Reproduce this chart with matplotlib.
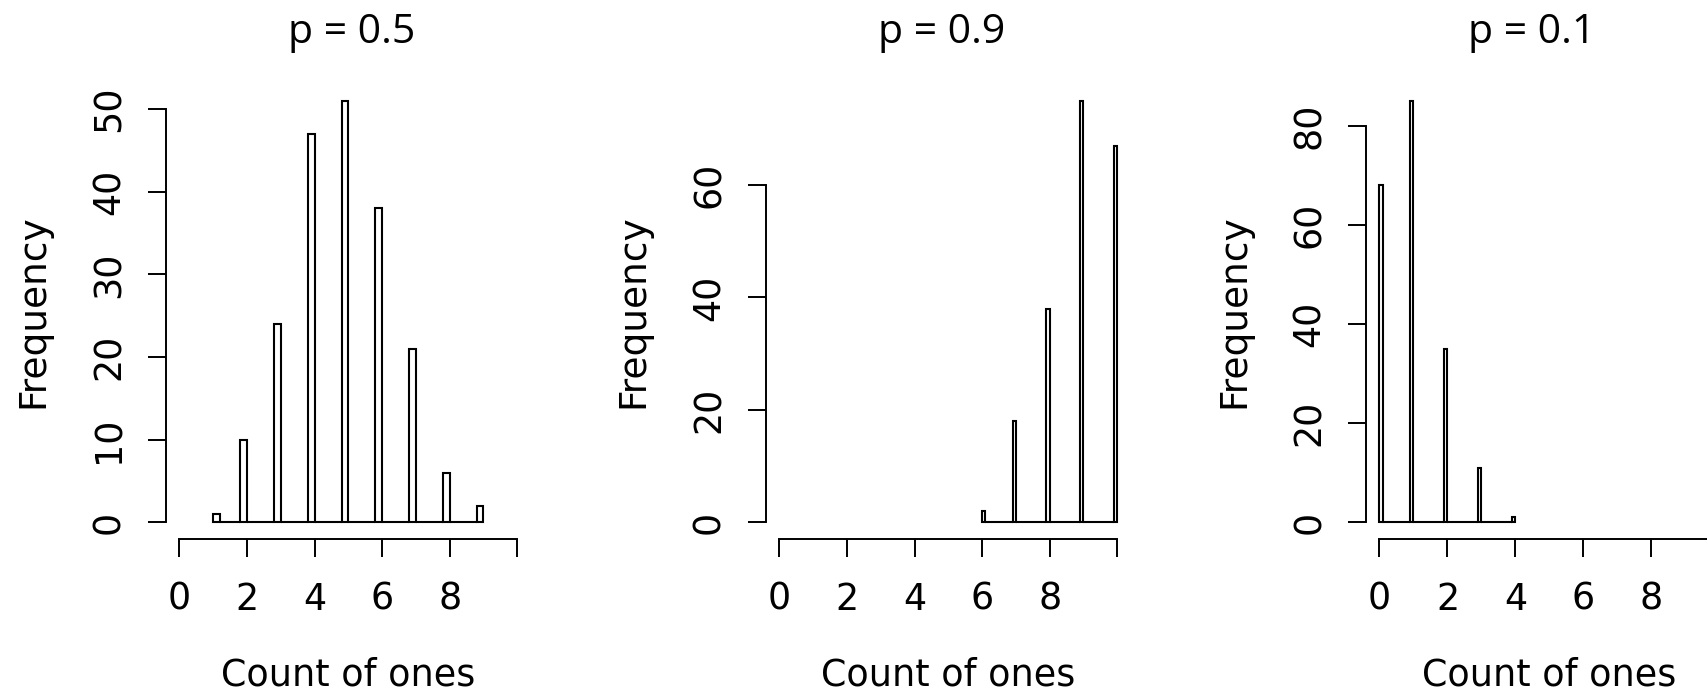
import numpy as np
import matplotlib
matplotlib.use("Agg")
import matplotlib.pyplot as plt

# ---------------- data ----------------
titles = ["p = 0.5", "p = 0.9", "p = 0.1"]
values_p05 = [1, 2, 3, 4, 5, 6, 7, 8, 9]
counts_p05 = [1, 10, 24, 47, 51, 38, 21, 6, 2]
values_p09 = [6, 7, 8, 9, 10]
counts_p09 = [2, 18, 38, 75, 67]
values_p01 = [0, 1, 2, 3, 4]
counts_p01 = [68, 85, 35, 11, 1]
bin_widths = [0.2, 0.1, 0.1]
yticks_p05 = [0, 10, 20, 30, 40, 50]
yticks_p09 = [0, 20, 40, 60]
yticks_p01 = [0, 20, 40, 60, 80]
xticks = [0, 2, 4, 6, 8, 10]
xtick_labels = ["0", "2", "4", "6", "8", ""]
xlabel = "Count of ones"
ylabel = "Frequency"

panels = [
    (values_p05, counts_p05, bin_widths[0], yticks_p05, titles[0]),
    (values_p09, counts_p09, bin_widths[1], yticks_p09, titles[1]),
    (values_p01, counts_p01, bin_widths[2], yticks_p01, titles[2]),
]

# ---------------- layout (pixels) ----------------
W, H, DPI = 1708, 691, 100
fig = plt.figure(figsize=(W / DPI, H / DPI), dpi=DPI)
fig.patch.set_facecolor("white")

axes_px = [(165.8, 365.0), (765.8, 365.0), (1365.9, 367.2)]
top_px, bot_px = 84.0, 539.0
title_cx = [352.0, 942.0, 1531.7]
title_base = 42.7
ylab_offset = 114.0
xlab_base = 685.0

tick_font = dict(family="DejaVu Sans", size=26.3)
label_font = dict(family="DejaVu Sans", size=27.0)
title_font = dict(family="Open Sans", size=29.5)
LW = 1.4
BAR_LW = 1.5

for (vals, cnts, w, yt, title), (lpx, wpx), tcx in zip(panels, axes_px, title_cx):
    ax = fig.add_axes([lpx / W, (H - bot_px) / H, wpx / W, (bot_px - top_px) / H])
    ax.set_facecolor("none")

    # histogram bins derived from the integer counts
    breaks = np.round(np.arange(vals[0], vals[-1] + w / 2, w), 6)
    nb = len(breaks) - 1
    hist = np.zeros(nb)
    for v, c in zip(vals, cnts):
        idx = 0 if v == vals[0] else int(round((v - vals[0]) / w)) - 1
        hist[idx] = c
    ax.bar(breaks[:-1], hist, width=w, align="edge", facecolor="none",
           edgecolor="black", linewidth=BAR_LW)

    ymax = max(cnts)
    ax.set_xlim(-0.4, 10.4)
    ax.set_ylim(-0.04 * ymax, 1.04 * ymax)

    for s in ["top", "right"]:
        ax.spines[s].set_visible(False)
    ax.spines["left"].set_bounds(yt[0], yt[-1])
    ax.spines["bottom"].set_bounds(xticks[0], xticks[-1])
    for s in ["left", "bottom"]:
        ax.spines[s].set_linewidth(LW)

    ax.set_xticks(xticks, xtick_labels, **tick_font)
    ax.set_yticks(yt, [str(t) for t in yt], rotation=90, va="center", **tick_font)
    ax.tick_params(axis="x", length=13, width=LW, pad=17.0)
    ax.tick_params(axis="y", length=13, width=LW, pad=14.5)

    ax.set_xlabel(xlabel, va="baseline", **tick_font)
    ax.xaxis.set_label_coords(0.5, (bot_px - xlab_base) / (bot_px - top_px))
    ax.set_ylabel(ylabel, **label_font)
    ax.yaxis.set_label_coords(-ylab_offset / wpx, 0.5)

    fig.text(tcx / W, (H - title_base) / H, title, ha="center", va="baseline",
             **title_font)

fig.savefig("out.png", dpi=DPI, facecolor="white")
